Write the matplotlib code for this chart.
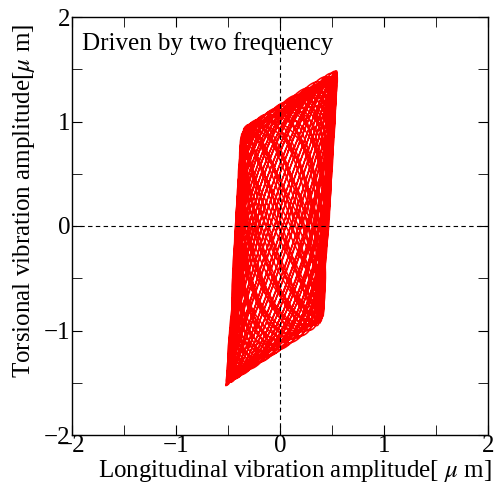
import numpy as np
import matplotlib
matplotlib.use("Agg")
import matplotlib.pyplot as plt
from matplotlib.ticker import MultipleLocator

# ---- data (trajectory parameters) ----
center = [0.02, 0.0]                 # centre of the trajectory [um]
mode1_vec = [0.45, 0.29]             # half-edge vector, mode 1 (x, y) [um]
mode2_vec = [0.07, 1.19]             # half-edge vector, mode 2 (x, y) [um]
mode3_vec = [0.02, 0.05]             # small harmonic component (x, y) [um]
freqs = [1.0, 1.037, 2.117]          # driving frequencies and harmonic (relative)
phases = [0.0, 0.6, 1.1]             # phases [rad]
n_cycles = 64                        # cycles recorded
title_text = "Driven by two frequency"
xticks = [-2, -1, 0, 1, 2]
yticks = [-2, -1, 0, 1, 2]
ticklabels = ["\u22122", "\u22121", "0", "1", "2"]

t = np.linspace(0, n_cycles, 25000)
s1 = np.sin(2 * np.pi * freqs[0] * t + phases[0])
s2 = np.sin(2 * np.pi * freqs[1] * t + phases[1])
s3 = np.sin(2 * np.pi * freqs[2] * t + phases[2])
x = center[0] + mode1_vec[0] * s1 + mode2_vec[0] * s2 + mode3_vec[0] * s3
y = center[1] + mode1_vec[1] * s1 + mode2_vec[1] * s2 + mode3_vec[1] * s3

plt.rcParams['font.family'] = ['Liberation Serif', 'DejaVu Serif']
plt.rcParams['mathtext.fontset'] = 'stix'

fig = plt.figure(figsize=(5.01, 4.87), dpi=100)
ax = fig.add_axes([72/501, 1-435/487, (488-72)/501, (435-17)/487])
ax.plot(x, y, color='red', lw=1.1)
ax.axhline(0, color='black', lw=0.8, ls=(0, (4, 3)))
ax.axvline(0, color='black', lw=0.8, ls=(0, (4, 3)))
ax.set_xlim(-2, 2)
ax.set_ylim(-2, 2)
ax.set_xticks(xticks)
ax.set_yticks(yticks)
ax.set_xticklabels(ticklabels)
ax.set_yticklabels(ticklabels)
ax.xaxis.set_minor_locator(MultipleLocator(0.5))
ax.yaxis.set_minor_locator(MultipleLocator(0.5))
ax.tick_params(which='both', direction='in', top=True, right=True, labelsize=18)
ax.tick_params(axis='x', pad=0)
ax.tick_params(axis='y', pad=1)
ax.tick_params(which='major', length=7)
ax.tick_params(which='minor', length=7)
for sp in ax.spines.values():
    sp.set_linewidth(1.0)
ax.text(0.024, 0.965, title_text, transform=ax.transAxes, fontsize=18, va='top', ha='left')
ax.set_xlabel(r"Longitudinal vibration amplitude[ $\mu$ m]", fontsize=18, labelpad=0)
ax.xaxis.set_label_coords(0.535, -0.055)
ax.set_ylabel(r"Torsional vibration amplitude[$\mu$ m]", fontsize=18, labelpad=0)
ax.yaxis.set_label_coords(-0.085, 0.56)
fig.savefig("out.png", dpi=100)
